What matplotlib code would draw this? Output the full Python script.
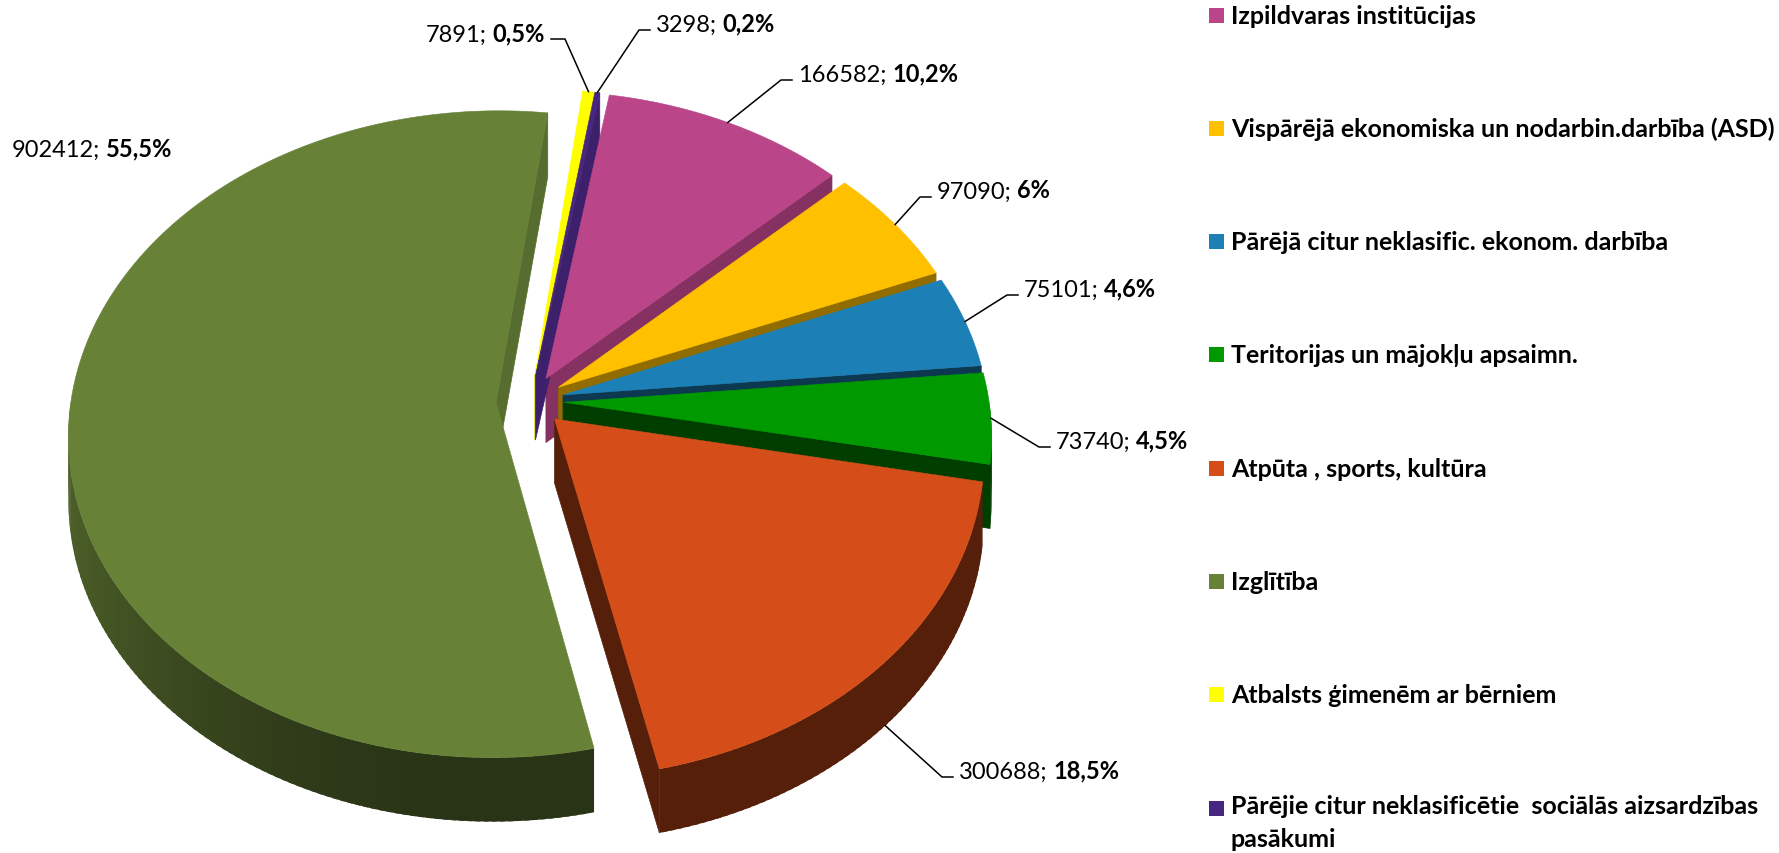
import numpy as np
import matplotlib
matplotlib.use("Agg")
import matplotlib.pyplot as plt
import matplotlib.colors as mcolors
from matplotlib.patches import Polygon, Rectangle
from matplotlib.collections import PolyCollection

plt.rcParams['font.family'] = ['Lato', 'DejaVu Sans']

categories = [
    "Izpildvaras institūcijas",
    "Vispārējā ekonomiska un nodarbin.darbība (ASD)",
    "Pārējā citur neklasific. ekonom. darbība",
    "Teritorijas un mājokļu apsaimn.",
    "Atpūta , sports, kultūra",
    "Izglītība",
    "Atbalsts ģimenēm ar bērniem",
    "Pārējie citur neklasificētie  sociālās aizsardzības\npasākumi",
]
values = [166582, 97090, 75101, 73740, 300688, 902412, 7891, 3298]
colors = ["#BB4589", "#FFC000", "#1C7FB5", "#009A00",
          "#D54E19", "#678137", "#FFFF00", "#472680"]

# label placement (pixels): x, y centre, alignment, leader line?
label_pos = [(798, 75, 'left', True), (937, 192, 'left', True),
             (1024, 290, 'left', True), (1056, 442, 'left', True),
             (959, 772, 'left', True), (12, 150, 'left', False),
             (545, 34, 'right', True), (656, 25, 'left', True)]

W, H = 1779, 854
CX, CY = 530, 402      # pie centre
RX, RY = 425, 320      # radii of top ellipse
PERSP = 0.099          # front looks bigger than back
DEPTH = 64
EXPLODE = 0.08
START = 9.7            # first slice angle, clockwise from 12 o'clock
FS_LAB = 17
FS_LEG = 18


def proj(u, v, dz=0.0):
    s = 1.0 / (1.0 - PERSP * v)
    return CX + RX * u * s, CY + RY * v * s + dz


def rim(t, off):
    r = np.radians(t)
    return off[0] + np.sin(r), off[1] - np.cos(r)


def shade(c, f):
    return tuple(np.clip(np.array(mcolors.to_rgb(c)) * f, 0, 1))


def f_out(t):
    return 0.4 + 0.35 * max(-np.sin(np.radians(t)), 0) ** 2


def f_rad(t):
    return 0.4 + 0.45 * max(np.cos(np.radians(t)), 0)


fig = plt.figure(figsize=(W / 100, H / 100), dpi=100)
ax = fig.add_axes([0, 0, 1, 1])
ax.set_xlim(0, W)
ax.set_ylim(H, 0)
ax.axis('off')

total = sum(values)
fracs = np.array(values) / total
starts = START + 360 * np.concatenate([[0], np.cumsum(fracs)[:-1]])
ends = starts + 360 * fracs

slices = []
for i in range(len(values)):
    a0, a1 = starts[i], ends[i]
    mid = np.radians((a0 + a1) / 2)
    off = (EXPLODE * np.sin(mid), -EXPLODE * np.cos(mid))
    slices.append((a0, a1, off))

# radial walls
rad_polys, rad_cols = [], []
for i, (a0, a1, off) in enumerate(slices):
    for t, vis in ((a0, np.sin(np.radians(a0)) < 0), (a1, np.sin(np.radians(a1)) > 0)):
        if not vis:
            continue
        c = proj(*off)
        r = proj(*rim(t, off))
        rad_polys.append([c, r, (r[0], r[1] + DEPTH), (c[0], c[1] + DEPTH)])
        rad_cols.append(shade(colors[i], f_rad(t)))
ax.add_collection(PolyCollection(rad_polys, facecolors=rad_cols,
                                 edgecolors=rad_cols, linewidths=0.5))

# outer walls (front half only), small overlapping strips for the shading
for i, (a0, a1, off) in enumerate(slices):
    for lo, hi in ((max(a0, 90), min(a1, 270)), (max(a0, 450), min(a1, 630))):
        if hi <= lo:
            continue
        ts = np.linspace(lo, hi, max(3, int(hi - lo) + 2))
        polys, cols = [], []
        for t0, t1 in zip(ts[:-1], ts[1:]):
            t1e = min(t1 + 0.6, hi)
            p0 = proj(*rim(t0, off))
            p1 = proj(*rim(t1e, off))
            polys.append([p0, p1, (p1[0], p1[1] + DEPTH), (p0[0], p0[1] + DEPTH)])
            cols.append(shade(colors[i], f_out((t0 + t1) / 2)))
        ax.add_collection(PolyCollection(polys, facecolors=cols,
                                         edgecolors='none', linewidths=0))

# top faces
for i, (a0, a1, off) in enumerate(slices):
    ts = np.linspace(a0, a1, max(3, int(2 * (a1 - a0)) + 2))
    pts = [proj(*off)] + [proj(*rim(t, off)) for t in ts]
    ax.add_patch(Polygon(pts, closed=True, facecolor=colors[i],
                         edgecolor=colors[i], linewidth=0.4))


def pct_text(f):
    s = f"{f * 100:.1f}".replace('.', ',')
    if s.endswith(',0'):
        s = s[:-2]
    return s + "%"


# data labels
for i, (a0, a1, off) in enumerate(slices):
    x, y, ha, leader = label_pos[i]
    val = f"{values[i]};"
    pct = pct_text(fracs[i])
    if ha == 'left':
        t1 = ax.text(x, y, val, fontsize=FS_LAB, ha='left', va='center')
        ax.annotate(pct, xy=(1, 0), xycoords=t1, xytext=(4, 0),
                    textcoords='offset points', fontsize=FS_LAB,
                    fontweight='bold', ha='left', va='bottom')
        elbow = [(x - 6, y + 6), (x - 17, y + 6)]
    else:
        t2 = ax.text(x, y, pct, fontsize=FS_LAB, fontweight='bold',
                     ha='right', va='center')
        ax.annotate(val, xy=(0, 0), xycoords=t2, xytext=(-4, 0),
                    textcoords='offset points', fontsize=FS_LAB,
                    ha='right', va='bottom')
        elbow = [(x + 6, y + 6), (x + 20, y + 6)]
    if leader:
        mid = (a0 + a1) / 2
        u, v = rim(mid, off)
        px, py = proj(u, v)
        if -np.cos(np.radians(mid)) > 0.3:
            py += DEPTH
        xs = [elbow[0][0], elbow[1][0], px]
        ys = [elbow[0][1], elbow[1][1], py]
        ax.plot(xs, ys, color='black', lw=1.1)

# legend
LEG_X, LEG_Y0, LEG_DY, BOX = 1209, 16, 113.3, 15
for i, name in enumerate(categories):
    y = LEG_Y0 + i * LEG_DY
    ax.add_patch(Rectangle((LEG_X, y - BOX / 2), BOX, BOX,
                           facecolor=colors[i], edgecolor='none'))
    if '\n' in name:
        ax.text(LEG_X + 22, y - 14, name, fontsize=FS_LEG, fontweight='bold',
                ha='left', va='top', linespacing=1.5)
    else:
        ax.text(LEG_X + 22, y, name, fontsize=FS_LEG, fontweight='bold',
                ha='left', va='center')

fig.savefig("out.png", dpi=100, facecolor='white')
